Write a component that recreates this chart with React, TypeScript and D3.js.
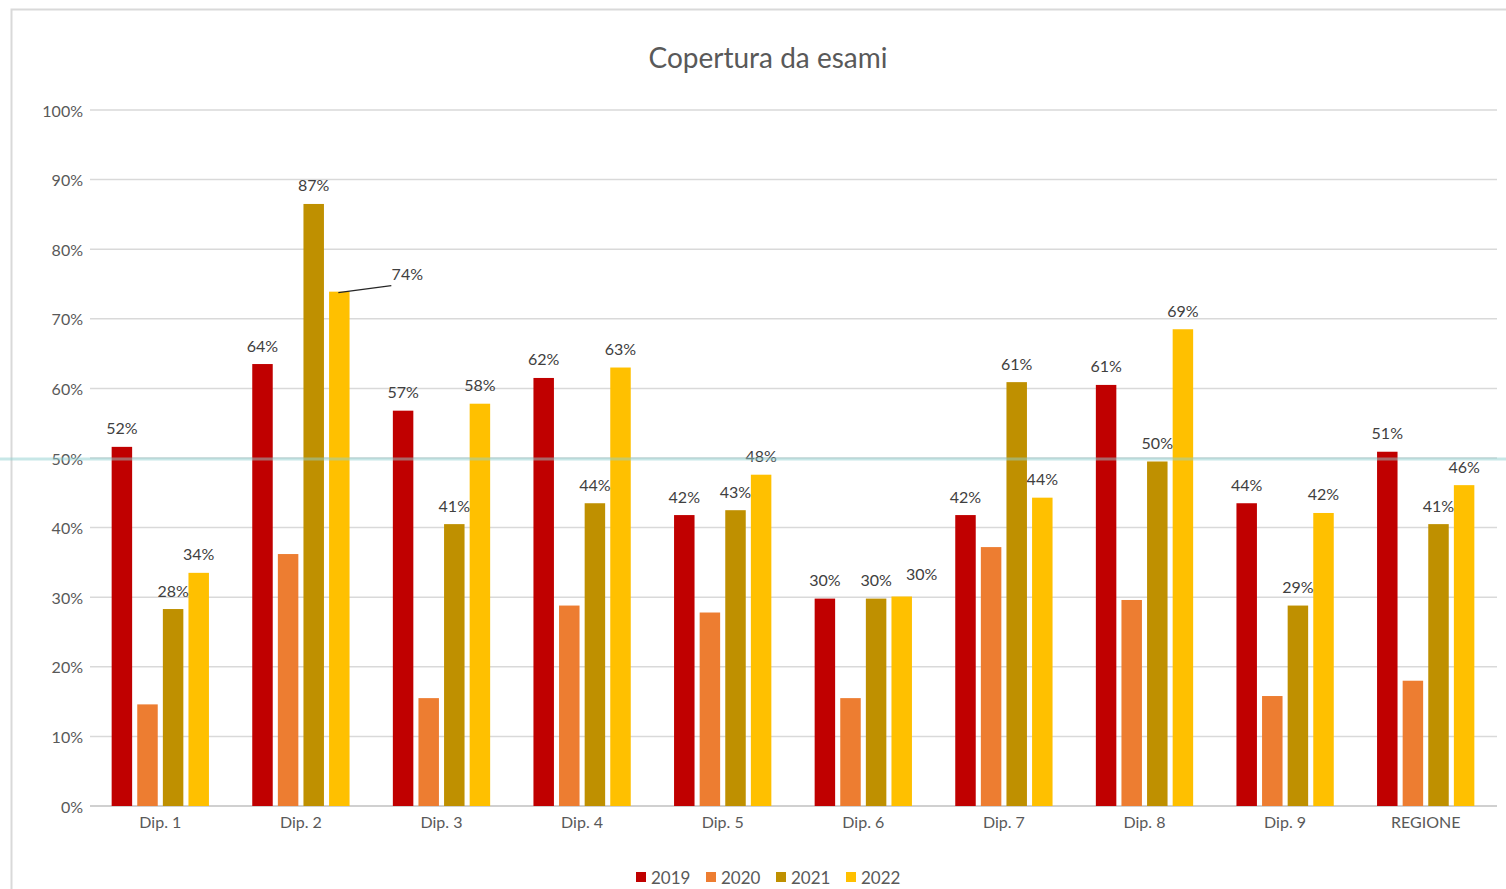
import React from "react";
import * as d3 from "d3";

const categories = ["Dip. 1", "Dip. 2", "Dip. 3", "Dip. 4", "Dip. 5", "Dip. 6", "Dip. 7", "Dip. 8", "Dip. 9", "REGIONE"];
const years = ["2019", "2020", "2021", "2022"];
const v2019 = [51.6, 63.5, 56.8, 61.5, 41.8, 29.8, 41.8, 60.5, 43.5, 50.9];
const v2020 = [14.6, 36.2, 15.5, 28.8, 27.8, 15.5, 37.2, 29.6, 15.8, 18.0];
const v2021 = [28.3, 86.5, 40.5, 43.5, 42.5, 29.8, 60.9, 49.5, 28.8, 40.5];
const v2022 = [33.5, 73.9, 57.8, 63.0, 47.6, 30.1, 44.3, 68.5, 42.1, 46.1];
const yTicks = [0, 10, 20, 30, 40, 50, 60, 70, 80, 90, 100];
const colors = ["#C00000", "#ED7D31", "#BF9000", "#FFC000"];
const showLabels = [true, false, true, true];

const series = [v2019, v2020, v2021, v2022];

const W = 1506;
const H = 889;
const left = 90;
const right = 1496;
const top = 110;
const bottom = 806;
const font = "Lato, 'Open Sans', sans-serif";

export default function App() {
  const x0 = d3.scaleBand<string>().domain(categories).range([left, right]).padding(0);
  const groupW = 97.3;
  const x1 = d3.scaleBand<string>().domain(years).range([0, groupW]).paddingInner(0.2);
  const y = d3.scaleLinear().domain([0, 100]).range([bottom, top]);
  const off = (x0.bandwidth() - groupW) / 2;

  const bars: React.ReactNode[] = [];
  const labels: React.ReactNode[] = [];
  categories.forEach((c, ci) => {
    years.forEach((yr, si) => {
      const v = series[si][ci];
      const bx = (x0(c) as number) + off + (x1(yr) as number);
      const bw = x1.bandwidth();
      bars.push(
        <rect key={`b${ci}-${si}`} x={bx} y={y(v)} width={bw} height={bottom - y(v)} fill={colors[si]} />
      );
      if (showLabels[si]) {
        let lx = bx + bw / 2;
        let ly = y(v) - 19;
        let leader: React.ReactNode = null;
        if (ci === 1 && si === 3) {
          lx = bx + bw / 2 + 68;
          ly = y(v) - 18;
          leader = (
            <line key={`ld${ci}`} x1={bx + bw / 2 - 1} y1={y(v) + 1} x2={bx + bw / 2 + 52} y2={y(v) - 6} stroke="#262626" strokeWidth={1.2} />
          );
        }
        if (ci === 5 && si === 3) {
          lx = bx + bw / 2 + 20;
          ly = y(v) - 23;
        }
        if (leader) labels.push(leader);
        labels.push(
          <text key={`l${ci}-${si}`} x={lx} y={ly} textAnchor="middle" dominantBaseline="central" fontSize={16} fill="#404040" fontFamily={font}>
            {`${Math.round(v)}%`}
          </text>
        );
      }
    });
  });

  const legendX = [636, 706, 776, 846];

  return (
    <svg width={W} height={H} style={{ position: "absolute", left: 0, top: 0, background: "#fff" }}>
      <rect x={0} y={0} width={W} height={H} fill="#fff" />
      <rect x={11.5} y={9.5} width={W + 20} height={H + 20} fill="none" stroke="#d9d9d9" strokeWidth={2} />
      <text x={768} y={57} textAnchor="middle" dominantBaseline="central" fontSize={28} fill="#595959" fontFamily={font}>
        Copertura da esami
      </text>
      {yTicks.map((t) => (
        <g key={`g${t}`}>
          <line x1={left} x2={right + 1} y1={y(t)} y2={y(t)} stroke={t === 0 ? "#d0d0d0" : "#d9d9d9"} strokeWidth={t === 0 ? 2 : 1.5} />
          <text x={83} y={y(t)} textAnchor="end" dominantBaseline="central" fontSize={16} fill="#595959" fontFamily={font}>
            {`${t}%`}
          </text>
        </g>
      ))}
      {bars}
      {labels}
      {categories.map((c) => (
        <text key={`c${c}`} x={(x0(c) as number) + x0.bandwidth() / 2} y={821} textAnchor="middle" dominantBaseline="central" fontSize={16} fill="#595959" fontFamily={font}>
          {c}
        </text>
      ))}
      {years.map((yr, i) => (
        <g key={`lg${yr}`}>
          <rect x={legendX[i]} y={872} width={10} height={10} fill={colors[i]} />
          <text x={legendX[i] + 15} y={877} dominantBaseline="central" fontSize={17} fill="#595959" fontFamily={font}>
            {yr}
          </text>
        </g>
      ))}
      <rect x={0} y={457.5} width={W} height={3} fill="#8fd0d0" opacity={0.5} />
    </svg>
  );
}
